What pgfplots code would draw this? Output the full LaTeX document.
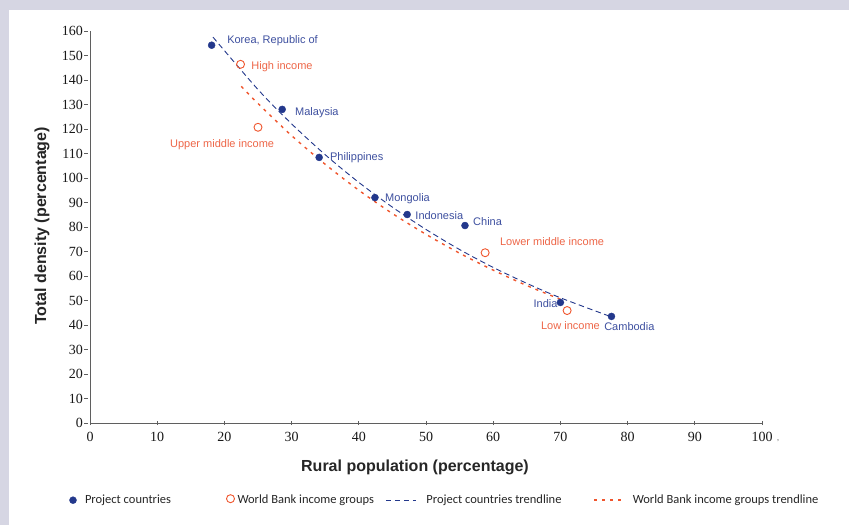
\documentclass[border=0pt]{standalone}
\usepackage{fontspec}
\setmainfont{Liberation Serif}
\newfontfamily\tickfont{Liberation Serif}
\newfontfamily\lsans{Liberation Sans}
\newfontfamily\legfont{Carlito}
\usepackage{pgfplots}
\pgfplotsset{compat=1.18}

\definecolor{framegray}{RGB}{214,214,227}
\definecolor{navy}{RGB}{35,56,140}
\definecolor{navytxt}{RGB}{62,80,160}
\definecolor{wborange}{RGB}{240,85,45}
\definecolor{wbtxt}{RGB}{238,102,72}
\definecolor{axisgray}{RGB}{95,95,95}

\newcommand\lblfont{\fontsize{11bp}{12.5bp}\lsans}

\pgfplotsset{
  dotleg/.style={legend image code/.code={\draw[##1] plot coordinates {(3.5bp,0bp)};}},
  circleg/.style={legend image code/.code={\draw[##1] plot coordinates {(4bp,1.5bp)};}},
  lineleg/.style={legend image code/.code={\draw[##1] (0bp,0bp) -- (30bp,0bp);}},
}

\begin{document}
\begin{tikzpicture}
\fill[framegray] (0bp,0bp) rectangle (849bp,525bp);
\fill[white] (9bp,0bp) rectangle (849bp,515bp);
\useasboundingbox (0bp,0bp) rectangle (849bp,525bp);
\begin{axis}[
  at={(90bp,102bp)}, anchor=south west,
  scale only axis, width=672bp, height=392bp,
  xmin=0, xmax=100, ymin=0, ymax=160,
  axis lines=left,
  axis line style={-, draw=axisgray, line width=0.8bp},
  xtick={0,10,...,100}, ytick={0,10,...,160},
  major tick length=4bp,
  tick style={draw=axisgray, line width=0.8bp},
  ytick style={xshift=-4bp},
  /pgf/number format/assume math mode=true,
  tick label style={font=\fontsize{14bp}{15bp}\tickfont, text=black!90},
  xticklabel style={yshift=-4bp},
  yticklabel style={xshift=-4bp, inner sep=1bp},
  xlabel={Rural population (percentage)},
  ylabel={Total density (percentage)},
  label style={font=\fontsize{16bp}{18bp}\lsans\bfseries, text=black!85},
  xlabel style={at={(axis description cs:0.4836,-0.1122)}, anchor=center},
  ylabel style={at={(axis description cs:-0.0714,0.5026)}, anchor=center},
  clip=false,
  legend columns=4,
  legend cell align=left,
  legend style={draw=none, fill=none, inner sep=0pt, outer sep=0pt,
    at={(axis description cs:-0.0305,-0.1964)}, anchor=west,
    nodes={inner sep=0pt, font=\fontsize{12.5bp}{14bp}\legfont, text=black!85},
    column sep=0pt},
]
% project countries
\addplot[only marks, mark=*, mark size=3.5bp, draw=navy, fill=navy, dotleg]
  coordinates {
  (18.1,154.2) (28.6,128.0) (34.1,108.4) (42.4,92.0)
  (47.2,85.1) (55.8,80.6) (70.0,49.2) (77.6,43.5)};
% World Bank income groups
\addplot[only marks, mark=o, mark size=4bp, draw=wborange, fill=white, line width=0.9bp, circleg]
  coordinates {
  (22.4,146.4) (25.0,120.7) (58.8,69.5) (71.0,45.9)};
% project countries trendline
\addplot[navy, line width=0.9bp, dash pattern=on 5.5bp off 3.5bp, smooth, mark=none, lineleg]
  coordinates {
  (18.3,157.5) (25,136.1) (30,122.1) (35,109.5) (40,98.2) (45,88.1)
  (50,79.0) (55,70.8) (60,63.5) (65,57.0) (70,51.1) (77.5,43.4)};
% World Bank income groups trendline
\addplot[wborange, line width=1.4bp, dash pattern=on 3bp off 5bp, smooth, mark=none, lineleg]
  coordinates {
  (22.5,137.4) (25,130.4) (30,117.3) (35,105.6) (40,95.0) (45,85.5)
  (50,77.0) (55,69.3) (60,62.4) (65,56.1) (70,50.5)};
\legend{
  \makebox[150bp][l]{\hspace{8.5bp}Project countries},
  \makebox[151bp][l]{\hspace{3bp}World Bank income groups},
  \makebox[177bp][l]{\hspace{10bp}Project countries trendline},
  \makebox[190bp][l]{\hspace{8bp}World Bank income groups trendline}}

% point labels
\begin{scope}[every node/.style={font=\lblfont, inner sep=0pt}]
\node[anchor=west, text=navytxt] at (axis cs:20.4,156.2) {Korea, Republic of};
\node[anchor=west, text=wbtxt] at (axis cs:24.0,145.6) {High income};
\node[anchor=west, text=navytxt] at (axis cs:30.5,126.8) {Malaysia};
\node[anchor=west, text=wbtxt] at (axis cs:11.9,113.7) {Upper middle income};
\node[anchor=west, text=navytxt] at (axis cs:35.7,108.4) {Philippines};
\node[anchor=west, text=navytxt] at (axis cs:43.9,91.6) {Mongolia};
\node[anchor=west, text=navytxt] at (axis cs:48.4,84.7) {Indonesia};
\node[anchor=west, text=navytxt] at (axis cs:57.0,82.2) {China};
\node[anchor=west, text=wbtxt] at (axis cs:61.0,74.0) {Lower middle income};
\node[anchor=east, text=navytxt] at (axis cs:69.6,48.7) {India};
\node[anchor=west, text=wbtxt] at (axis cs:67.1,39.7) {Low income};
\node[anchor=west, text=navytxt] at (axis cs:76.5,39.3) {Cambodia};
\end{scope}
\node[font=\fontsize{8bp}{9bp}\tickfont, text=black!70] at (axis cs:102.4,-7.3) {,};
\end{axis}
\end{tikzpicture}
\end{document}
